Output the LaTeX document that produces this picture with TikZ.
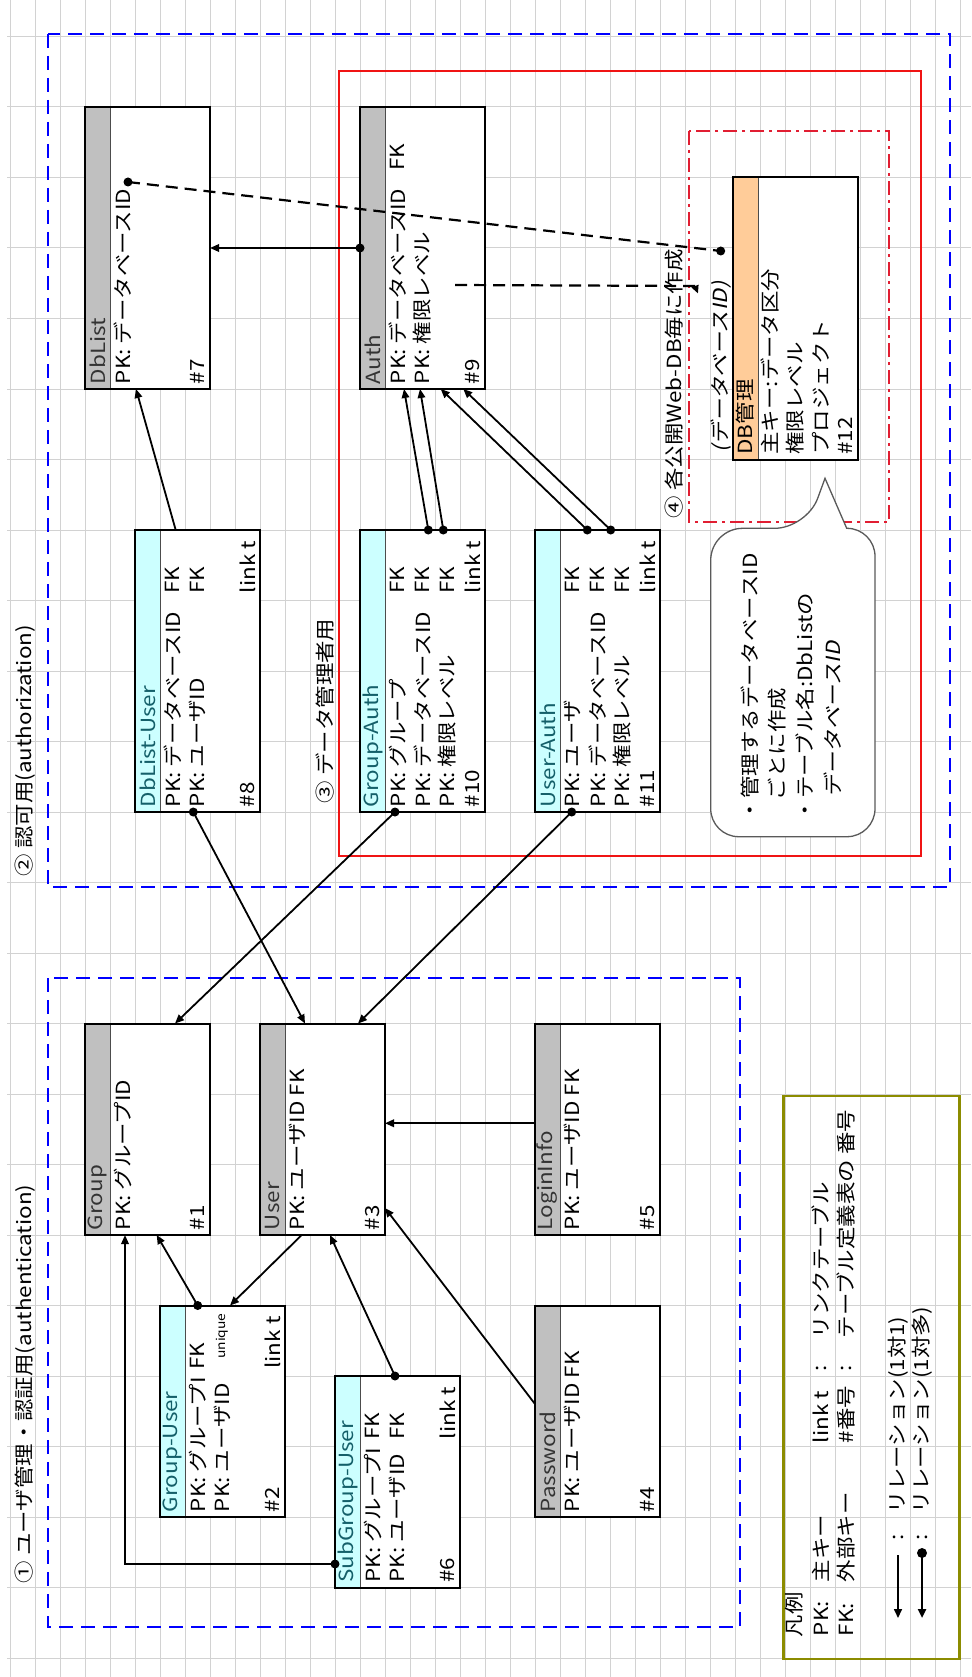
\documentclass[tikz,border=0pt]{standalone}
\usepackage{fontspec}
\setmainfont{Noto Sans CJK JP}[FakeStretch=1.15]
\newfontfamily\jpit{Noto Sans CJK JP}[FakeStretch=1.15,FakeSlant=0.2]
\usetikzlibrary{arrows.meta,calc}

\definecolor{gridc}{RGB}{210,210,210}
\definecolor{hdrgray}{RGB}{192,192,192}
\definecolor{hdrcyan}{RGB}{204,255,255}
\definecolor{hdrorange}{RGB}{255,204,153}
\definecolor{boxblue}{RGB}{0,0,255}
\definecolor{boxred}{RGB}{240,20,20}
\definecolor{ddred}{RGB}{225,30,50}
\definecolor{olivec}{RGB}{140,140,0}
\definecolor{tealtxt}{RGB}{20,95,105}
\definecolor{calloutc}{RGB}{90,90,90}

\newcounter{tn}
\tikzset{
  gridline/.style={draw=gridc, line width=1pt},
  bluebox/.style={draw=boxblue, line width=2.5pt, dash pattern=on 14pt off 8pt},
  redbox/.style={draw=boxred, line width=2pt},
  ddbox/.style={draw=ddred, line width=2.2pt, dash pattern=on 14pt off 5pt on 3pt off 5pt},
  legendbox/.style={draw=olivec, line width=2.5pt},
  tblbox/.style={fill=white, draw=none, inner sep=0pt, outer sep=0pt},
  tblborder/.style={draw=black, line width=2pt},
  hdrsep/.style={draw=black!70, line width=1pt},
  txt/.style={font=\fontsize{19.5}{22}\selectfont, inner sep=0pt, outer sep=0pt, rotate=90},
  smalltxt/.style={font=\fontsize{12}{14}\selectfont, inner sep=0pt, outer sep=0pt, rotate=90},
  ittxt/.style={font=\fontsize{19.5}{22}\selectfont\jpit, inner sep=0pt, outer sep=0pt, rotate=90},
  conn/.style={draw=black, line width=1.8pt, -{Triangle[length=9pt,width=7.5pt]}},
  dconn/.style={draw=black, line width=2.2pt, dash pattern=on 12pt off 7pt},
  callout/.style={draw=calloutc, line width=1.3pt, fill=white},
}

% table: name, L, T, R, B, header colour
\newcommand{\ertable}[6]{%
  \node[tblbox, minimum width={(#4)-(#2)}, minimum height={(#5)-(#3)}, anchor=north west] (#1) at (#2,#3) {};
  \fill[#6] (#1.north west) rectangle ([xshift=25pt]#1.south west);
  \draw[hdrsep] ([xshift=25pt]#1.north west) -- ([xshift=25pt]#1.south west);
  \draw[tblborder] (#1.north west) rectangle (#1.south east);
}
% row text: [style] table, row, text
\newcommand{\rtxt}[4][]{%
  \stepcounter{tn}%
  \node[txt, anchor=west, #1] (tx\arabic{tn}) at ([xshift={(12.5+25*#3)*1pt}, yshift=5pt]#2.south west) {#4};
}
% right aligned text (FK column): table, row, text
\newcommand{\fktxt}[3]{%
  \stepcounter{tn}%
  \node[txt, anchor=east] (tx\arabic{tn}) at ([xshift={(12.5+25*#2)*1pt}, yshift=-37pt]#1.north west) {#3};
}
\newcommand{\linkt}[1]{%
  \stepcounter{tn}%
  \node[txt, anchor=east] (tx\arabic{tn}) at ([xshift=112.5pt, yshift=-11pt]#1.north west) {link t};
}

\begin{document}
\begin{tikzpicture}[x=1pt,y=-1pt]
\useasboundingbox (0,0) rectangle (971,1677);
\fill[white] (0,0) rectangle (971,1677);

% grid
\foreach \i in {0,...,38} \draw[gridline] ({10+25*\i},0) -- ({10+25*\i},1677);
\foreach \k in {0,...,23} \draw[gridline] (7,{36.5+70.5*\k}) -- (971,{36.5+70.5*\k});

% group frames
\draw[bluebox] (48,34) rectangle (950,887);
\draw[redbox] (339,71.5) rectangle (921,855.5);
\draw[ddbox] (689,131) rectangle (889,522);
\draw[bluebox] (48,978) rectangle (740,1627);
\node[legendbox, minimum width=176, minimum height=563, anchor=north west, inner sep=0pt] (legend) at (782,1094.5) {};

% tables
\ertable{dblist}{85}{107}{210}{389}{hdrgray}
\ertable{auth}{360}{107}{485}{389}{hdrgray}
\ertable{dbmgr}{733}{177.5}{858}{459.5}{hdrorange}
\ertable{dbluser}{135}{530}{260}{812}{hdrcyan}
\ertable{grpauth}{360}{530}{485}{812}{hdrcyan}
\ertable{userauth}{535}{530}{660}{812}{hdrcyan}
\ertable{group}{85}{1023.5}{210}{1235}{hdrgray}
\ertable{user}{260}{1023.5}{385}{1235}{hdrgray}
\ertable{login}{535}{1023.5}{660}{1235}{hdrgray}
\ertable{grpuser}{160}{1305.5}{285}{1517}{hdrcyan}
\ertable{passwd}{535}{1305.5}{660}{1517}{hdrgray}
\ertable{subgrp}{335}{1376}{460}{1587.5}{hdrcyan}

% table texts
\rtxt[text=black!80]{dblist}{0}{DbList}
\rtxt{dblist}{1}{PK: データベースID}
\rtxt{dblist}{4}{\#7}

\rtxt[text=black!80]{auth}{0}{Auth}
\rtxt{auth}{1}{PK: データベースID}\fktxt{auth}{1}{FK}
\rtxt{auth}{2}{PK: 権限レベル}
\rtxt{auth}{4}{\#9}

\rtxt{dbmgr}{0}{DB管理}
\rtxt{dbmgr}{1}{主キー:データ区分}
\rtxt{dbmgr}{2}{権限レベル}
\rtxt{dbmgr}{3}{プロジェクト}
\rtxt{dbmgr}{4}{\#12}

\rtxt[text=tealtxt]{dbluser}{0}{DbList-User}
\rtxt{dbluser}{1}{PK: データベースID}\fktxt{dbluser}{1}{FK}
\rtxt{dbluser}{2}{PK: ユーザID}\fktxt{dbluser}{2}{FK}
\rtxt{dbluser}{4}{\#8}\linkt{dbluser}

\rtxt[text=tealtxt]{grpauth}{0}{Group-Auth}
\rtxt{grpauth}{1}{PK: グループ}\fktxt{grpauth}{1}{FK}
\rtxt{grpauth}{2}{PK: データベースID}\fktxt{grpauth}{2}{FK}
\rtxt{grpauth}{3}{PK: 権限レベル}\fktxt{grpauth}{3}{FK}
\rtxt{grpauth}{4}{\#10}\linkt{grpauth}

\rtxt[text=tealtxt]{userauth}{0}{User-Auth}
\rtxt{userauth}{1}{PK: ユーザ}\fktxt{userauth}{1}{FK}
\rtxt{userauth}{2}{PK: データベースID}\fktxt{userauth}{2}{FK}
\rtxt{userauth}{3}{PK: 権限レベル}\fktxt{userauth}{3}{FK}
\rtxt{userauth}{4}{\#11}\linkt{userauth}

\rtxt[text=black!80]{group}{0}{Group}
\rtxt{group}{1}{PK: グループID}
\rtxt{group}{4}{\#1}

\rtxt[text=black!80]{user}{0}{User}
\rtxt{user}{1}{PK: ユーザID FK}
\rtxt{user}{4}{\#3}

\rtxt[text=black!80]{login}{0}{LoginInfo}
\rtxt{login}{1}{PK: ユーザID FK}
\rtxt{login}{4}{\#5}

\rtxt[text=black!80]{passwd}{0}{Password}
\rtxt{passwd}{1}{PK: ユーザID FK}
\rtxt{passwd}{4}{\#4}

\rtxt[text=tealtxt]{grpuser}{0}{Group-User}
\rtxt{grpuser}{1}{PK: グループI}\fktxt{grpuser}{1}{FK}
\rtxt{grpuser}{2}{PK: ユーザID}
\node[smalltxt, anchor=east] (uniq) at ([xshift=62.5pt, yshift=-8pt]grpuser.north west) {unique};
\rtxt{grpuser}{4}{\#2}\linkt{grpuser}

\rtxt[text=tealtxt]{subgrp}{0}{SubGroup-User}
\rtxt{subgrp}{1}{PK: グループI}\fktxt{subgrp}{1}{FK}
\rtxt{subgrp}{2}{PK: ユーザID}\fktxt{subgrp}{2}{FK}
\rtxt{subgrp}{4}{\#6}\linkt{subgrp}

% solid connectors
\draw[conn] (auth.west) -- (dblist.east);
\fill (auth.west) circle[radius=4.5pt];
\draw[conn] ([xshift=40.7pt]dbluser.north west) -- ([xshift=51pt]dblist.south west);
\draw[conn] ([xshift=68.3pt]grpauth.north west) -- ([xshift=44pt]auth.south west);
\fill ([xshift=68.3pt]grpauth.north west) circle[radius=4.5pt];
\draw[conn] ([xshift=83.3pt]grpauth.north west) -- ([xshift=60pt]auth.south west);
\fill ([xshift=83.3pt]grpauth.north west) circle[radius=4.5pt];
\draw[conn] ([xshift=52.3pt]userauth.north west) -- ([xshift=80.7pt]auth.south west);
\fill ([xshift=52.3pt]userauth.north west) circle[radius=4.5pt];
\draw[conn] ([xshift=75.7pt]userauth.north west) -- ([xshift=103.3pt]auth.south west);
\fill ([xshift=75.7pt]userauth.north west) circle[radius=4.5pt];
\draw[conn] ([xshift=58.3pt]dbluser.south west) -- ([xshift=45pt]user.north west);
\fill ([xshift=58.3pt]dbluser.south west) circle[radius=4.5pt];
\draw[conn] ([xshift=35pt]grpauth.south west) -- ([xshift=90pt]group.north west);
\fill ([xshift=35pt]grpauth.south west) circle[radius=4.5pt];
\draw[conn] ([xshift=36.7pt]userauth.south west) -- ([xshift=98pt]user.north west);
\fill ([xshift=36.7pt]userauth.south west) circle[radius=4.5pt];
\draw[conn] ([yshift=6pt]login.west) -- ([yshift=6pt]user.east);
\draw[conn] ([yshift=-98.5pt]passwd.north west) -- ([yshift=27pt]user.south east);
\draw[conn] ([xshift=37.7pt]grpuser.north west) -- ([xshift=71.7pt]group.south west);
\fill ([xshift=37.7pt]grpuser.north west) circle[radius=4.5pt];
\draw[conn] ([xshift=41.7pt]user.south west) -- ([xshift=70pt]grpuser.north west);
\draw[conn] ([xshift=60pt]subgrp.north west) -- ([xshift=70pt]user.south west);
\fill ([xshift=60pt]subgrp.north west) circle[radius=4.5pt];
\draw[conn] ([yshift=23.5pt]subgrp.south west) -| ([xshift=40pt]group.south west);
\fill ([yshift=23.5pt]subgrp.south west) circle[radius=4.5pt];

% dashed connectors
\draw[dconn] ([shift={(43pt,-75pt)}]dblist.north west) -- ([shift={(-12.3pt,-73.5pt)}]dbmgr.north west);
\fill ([shift={(43pt,-75pt)}]dblist.north west) circle[radius=4.5pt];
\fill ([shift={(-12.3pt,-73.5pt)}]dbmgr.north west) circle[radius=4.5pt];
\draw[dconn, -{Triangle[length=8pt,width=7pt]}] ([shift={(95pt,-178pt)}]auth.north west) -- ([shift={(-38pt,-108.5pt)}]dbmgr.north west) -- ([shift={(-35pt,-116pt)}]dbmgr.north west);

% callout
\draw[callout] (710.7,690) [rounded corners=32] -- (710.7,528.3) -- (806.7,528.3) [sharp corners] -- (825,478.3) -- (846.7,528.3) [rounded corners=28] -- (875,528.3) -- (875,836.7) -- (710.7,836.7) -- cycle;
\node[txt, anchor=west] (co1) at (750,821) {・管理するデータベースID};
\node[txt, anchor=west] (co2) at (777,800) {ごとに作成};
\node[txt, anchor=west] (co3) at (805,821) {・テーブル名:DbListの};
\node[ittxt, anchor=west] (co4) at (833,797) {データベースID};

% titles
\node[txt, anchor=west] (t1) at (25,1583) {① ユーザ管理・認証用(authentication)};
\node[txt, anchor=west] (t2) at (25,876) {② 認可用(authorization)};
\node[txt, anchor=west] (t3) at (325,803) {③ データ管理者用};
\node[txt, anchor=west] (t4) at (674,518) {④ 各公開Web-DB毎に作成};
\node[ittxt, anchor=west] (t5) at (721,452) {(データベースID)};

% legend
\node[txt, anchor=west] (lg0) at (794,1637) {凡例};
\node[txt, anchor=west] (lg1) at (821,1636) {PK:};
\node[txt, anchor=west] (lg2) at (821,1582) {主キー};
\node[txt, anchor=west] (lg3) at (821,1443) {link t};
\node[txt] (lg4) at (821,1368) {:};
\node[txt, anchor=west] (lg5) at (821,1338) {リンクテーブル};
\node[txt, anchor=west] (lg6) at (846,1636) {FK:};
\node[txt, anchor=west] (lg7) at (846,1582) {外部キー};
\node[txt, anchor=west] (lg8) at (846,1443) {\#番号};
\node[txt] (lg9) at (846,1368) {:};
\node[txt, anchor=west] (lg10) at (846,1338) {テーブル定義表の 番号};
\node[txt] (lg11) at (898,1537) {:};
\node[txt, anchor=west] (lg12) at (898,1513) {リレーション(1対1)};
\node[txt] (lg13) at (922,1537) {:};
\node[txt, anchor=west] (lg14) at (922,1513) {リレーション(1対多)};
\coordinate (la1) at (898,1555);
\coordinate (la2) at (898,1618);
\coordinate (lb1) at (922,1553);
\coordinate (lb2) at (922,1618);
\draw[draw=black, line width=1.6pt, -{Triangle[length=9pt,width=8pt]}] (la1) -- (la2);
\draw[draw=black, line width=2.6pt, -{Triangle[length=9pt,width=8pt]}] (lb1) -- (lb2);
\fill (lb1) circle[radius=5pt];
\end{tikzpicture}
\end{document}
